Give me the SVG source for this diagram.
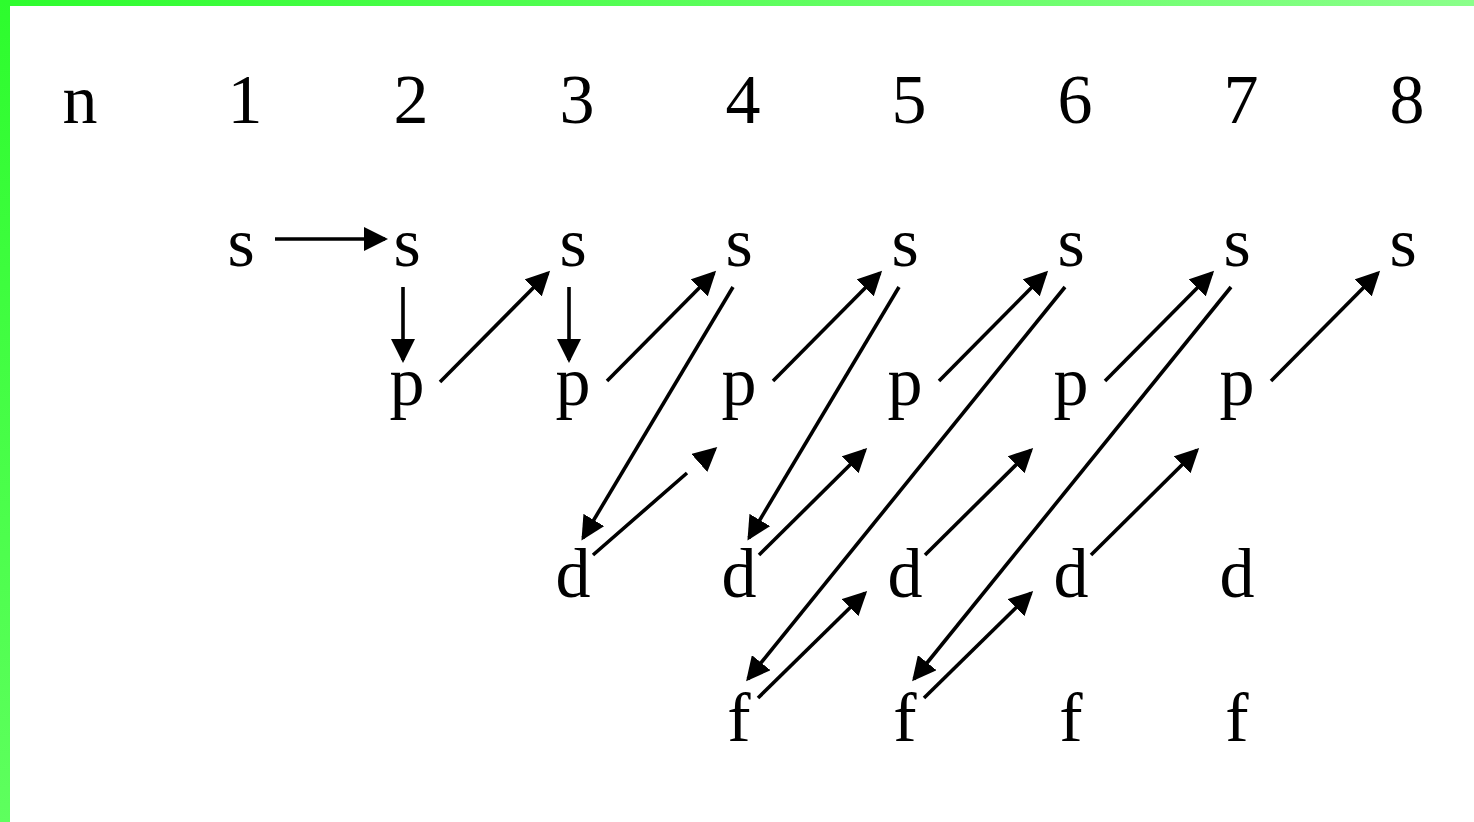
<svg xmlns="http://www.w3.org/2000/svg" width="1474" height="822" viewBox="0 0 1474 822">
<style>
.t{font-family:"Liberation Serif","Times New Roman",serif;font-size:70px;fill:#000;text-anchor:middle}
.c{fill:none;stroke:#000;stroke-width:3.6;marker-end:url(#ah)}
</style>
<defs>
<marker id="ah" markerUnits="userSpaceOnUse" markerWidth="26" markerHeight="24" refX="21" refY="12" orient="auto" viewBox="0 0 26 24">
<path d="M0,0 L24,12 L0,24 Z" fill="#000"/>
</marker>
<linearGradient id="gt" x1="0" y1="0" x2="1" y2="0">
<stop offset="0" stop-color="#2dfc2d"/>
<stop offset="1" stop-color="#8aff8a"/>
</linearGradient>
<linearGradient id="gl" x1="0" y1="0" x2="0" y2="1">
<stop offset="0" stop-color="#2dfc2d"/>
<stop offset="1" stop-color="#5eff5e"/>
</linearGradient>
</defs>
<rect width="1474" height="822" fill="#fff"/>
<rect x="0" y="0" width="1474" height="6" fill="url(#gt)"/>
<rect x="0" y="0" width="10" height="822" fill="url(#gl)"/>
<g id="header">
<text class="t" x="80" y="123">n</text>
<text class="t" x="245" y="123">1</text>
<text class="t" x="411" y="123">2</text>
<text class="t" x="577" y="123">3</text>
<text class="t" x="743" y="123">4</text>
<text class="t" x="909" y="123">5</text>
<text class="t" x="1075" y="123">6</text>
<text class="t" x="1241" y="123">7</text>
<text class="t" x="1407" y="123">8</text>
</g>
<g id="s1"><text class="t" x="241" y="266">s</text></g>
<g id="s2"><text class="t" x="407" y="266">s</text></g>
<g id="s3"><text class="t" x="573" y="266">s</text></g>
<g id="s4"><text class="t" x="739" y="266">s</text></g>
<g id="s5"><text class="t" x="905" y="266">s</text></g>
<g id="s6"><text class="t" x="1071" y="266">s</text></g>
<g id="s7"><text class="t" x="1237" y="266">s</text></g>
<g id="s8"><text class="t" x="1403" y="266">s</text></g>
<g id="p2"><text class="t" x="407" y="405">p</text></g>
<g id="p3"><text class="t" x="573" y="405">p</text></g>
<g id="p4"><text class="t" x="739" y="405">p</text></g>
<g id="p5"><text class="t" x="905" y="405">p</text></g>
<g id="p6"><text class="t" x="1071" y="405">p</text></g>
<g id="p7"><text class="t" x="1237" y="405">p</text></g>
<g id="d3"><text class="t" x="573" y="597">d</text></g>
<g id="d4"><text class="t" x="739" y="597">d</text></g>
<g id="d5"><text class="t" x="905" y="597">d</text></g>
<g id="d6"><text class="t" x="1071" y="597">d</text></g>
<g id="d7"><text class="t" x="1237" y="597">d</text></g>
<g id="f4"><text class="t" x="739" y="741">f</text></g>
<g id="f5"><text class="t" x="905" y="741">f</text></g>
<g id="f6"><text class="t" x="1071" y="741">f</text></g>
<g id="f7"><text class="t" x="1237" y="741">f</text></g>
<g id="connectors">
<path class="c" d="M275,239 L385,239"/>
<path class="c" d="M403,287 L403,360"/>
<path class="c" d="M440,382 L548,273"/>
<path class="c" d="M569,287 L569,360"/>
<path class="c" d="M607,381 L714,273"/>
<path class="c" d="M733,287 L583,538"/>
<path class="c" d="M593,555 L687,473 M706,457 L715,449"/>
<path class="c" d="M773,381 L880,273"/>
<path class="c" d="M899,287 L749,538"/>
<path class="c" d="M759,555 L865,450"/>
<path class="c" d="M939,381 L1046,273"/>
<path class="c" d="M1065,287 L748,679"/>
<path class="c" d="M925,555 L1031,450"/>
<path class="c" d="M758,698 L865,593"/>
<path class="c" d="M1105,381 L1212,273"/>
<path class="c" d="M1231,287 L914,679"/>
<path class="c" d="M1091,555 L1197,450"/>
<path class="c" d="M924,698 L1031,593"/>
<path class="c" d="M1271,381 L1378,273"/>
</g>
</svg>
